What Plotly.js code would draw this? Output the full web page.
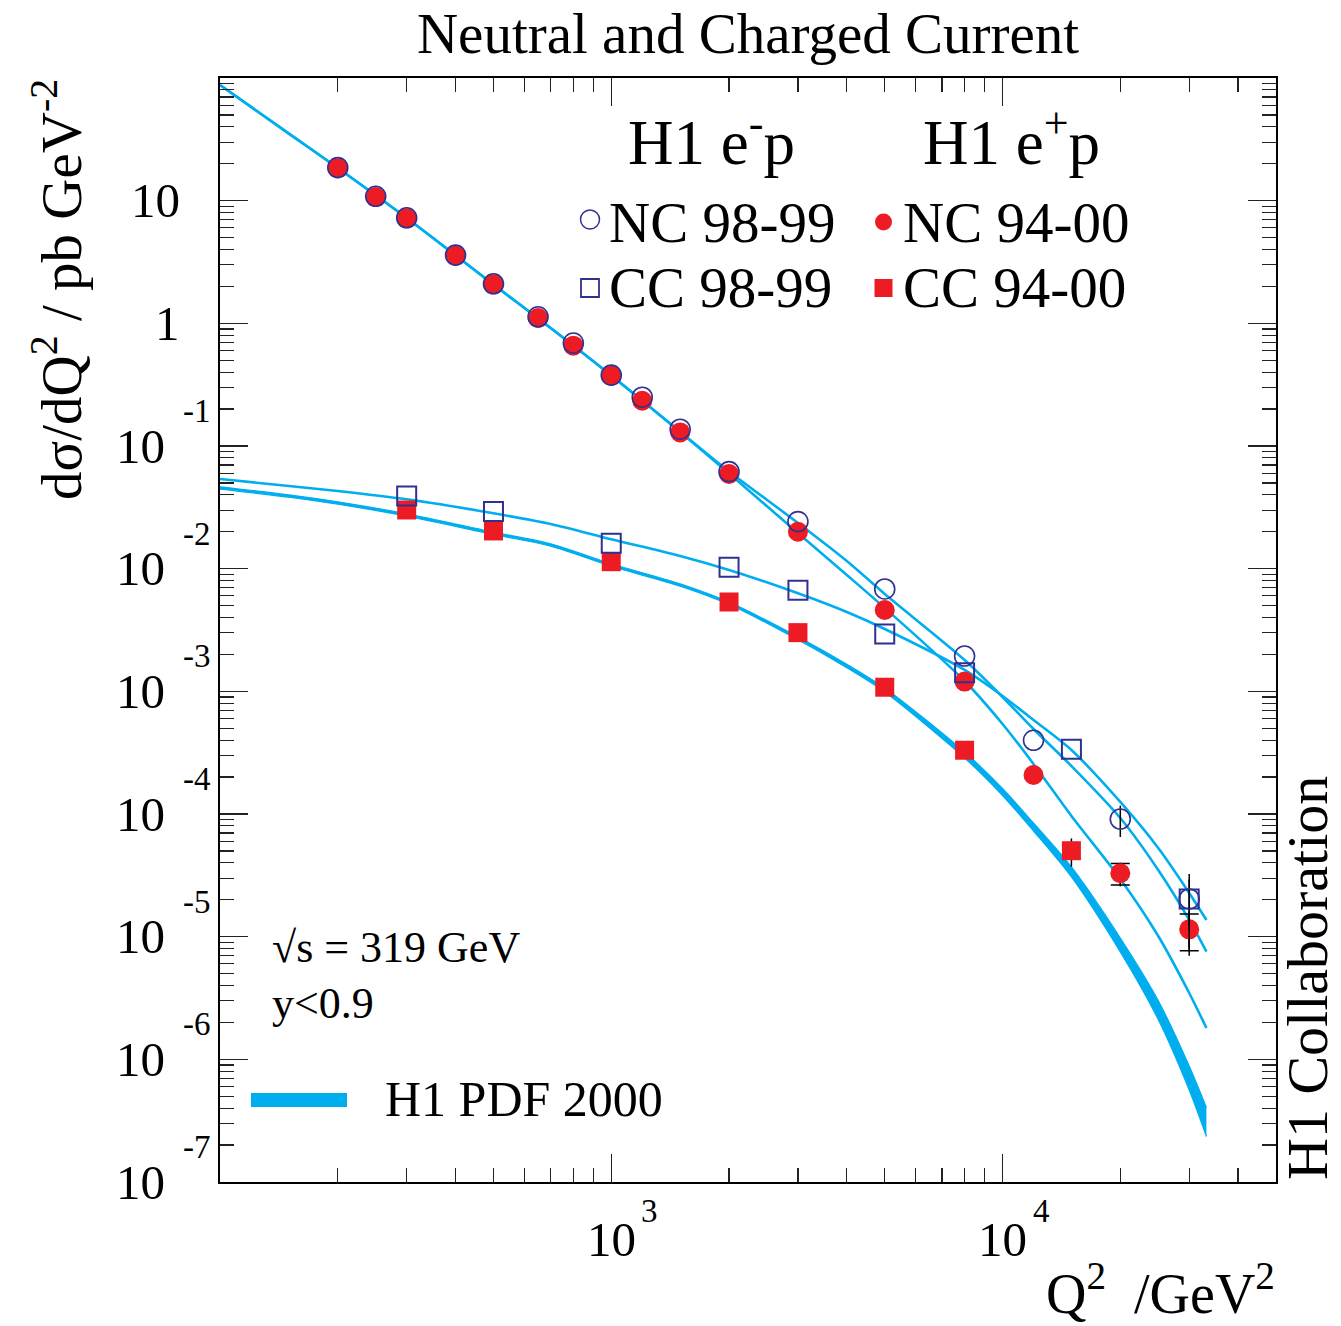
<!DOCTYPE html>
<html>
<head>
<meta charset="utf-8">
<script src="https://cdn.plot.ly/plotly-3.0.1.min.js"></script>
<style>body{margin:0;padding:0;background:#fff;} #chart{width:1341px;height:1326px;}</style>
</head>
<body>
<div id="chart"></div>
<script>
// ---------------- data ----------------
const ncQ2 = [200,250,300,400,500,650,800,1000,1200,1500,2000,3000,5000,8000,12000,20000,30000];
const ncEmVal = [18.6,10.85,7.25,3.6,2.1,1.13,0.691,0.378,0.250,0.137,0.0618,0.0242,0.00683,0.00194,3.99e-4,9.1e-5,2.03e-5];
// errors smaller than the marker are not visible in the picture and are left at 0
const ncEmErr = [0,0,0,0,0,0,0,0,0,0,0,0,0,0,0,0.000026,0.000009];
const ncEpVal = [18.4,10.7,7.18,3.56,2.08,1.106,0.658,0.374,0.234,0.129,0.0591,0.0200,0.00460,0.00120,2.08e-4,3.29e-5,1.148e-5];
const ncEpErr = [0,0,0,0,0,0,0,0,0,0,0,0,0,0,0,0.0000072,0.0000045];
const ncEpStat = [0,0,0,0,0,0,0,0,0,0,0,0,0,0,0,0.0000065,0.0000038];

const ccEmQ2 = [300,500,1000,2000,3000,5000,8000,15000,30000];
const ccEmVal = [0.0392,0.0292,0.0161,0.01026,0.00667,0.00294,0.00142,3.37e-4,2.03e-5];
const ccEmErr = [0,0,0,0,0,0,0,0,0.0000121];

const ccEpQ2 = [300,500,1000,2000,3000,5000,8000,15000];
const ccEpVal = [0.0301,0.0203,0.0114,0.00535,0.00301,0.00108,3.31e-4,5.02e-5];
const ccEpErr = [0,0,0,0,0,0,0,0.000013];

// H1 PDF 2000 predictions
const curveQ2 = [100,150,200,300,500,700,1000,1500,2000,3000,4000,5000,8000,10000,12000,15000,20000,25000,30000,33200];
const pdfNcEm = [87.7,35.23,18.47,7.224,2.073,0.9163,0.3757,0.1305,0.06198,0.02358,0.01155,0.006216,0.001801,8.994e-4,4.932e-4,2.462e-4,9.28e-5,3.496e-5,1.368e-5,7.54e-6];
const pdfNcEp = [87.7,35.23,18.47,7.224,2.073,0.9163,0.3757,0.1301,0.05970,0.01953,0.008882,0.004780,0.001214,5.418e-4,2.557e-4,9.634e-5,2.954e-5,1.013e-5,3.475e-6,1.801e-6];
const pdfCcEm = [0.05384,0.04721,0.04297,0.03677,0.02828,0.02313,0.01736,0.01269,0.009754,0.006298,0.004433,0.003222,0.001493,9.165e-4,5.84e-4,3.325e-4,1.253e-4,5.284e-5,2.271e-5,1.368e-5];
const pdfCcEpHigh = [0.04650,0.04002,0.03508,0.02802,0.01987,0.01596,0.01096,0.007528,0.005341,0.002783,0.001664,0.001065,3.203e-4,1.615e-4,8.448e-5,3.700e-5,9.758e-6,3.019e-6,8.826e-7,4.050e-7];
const pdfCcEpLow = [0.04445,0.03826,0.03354,0.02679,0.01900,0.01525,0.01048,0.007196,0.005106,0.002631,0.001555,0.000988,2.862e-4,1.416e-4,7.270e-5,3.067e-5,7.504e-6,2.113e-6,5.627e-7,2.350e-7];

// tick labels
const yTickVals = [10,1,0.1,0.01,1e-3,1e-4,1e-5,1e-6,1e-7];
const yTickBase = ["10","1","10","10","10","10","10","10","10"];
const yTickExp  = ["","","-1","-2","-3","-4","-5","-6","-7"];
const xTickVals = [1000,10000];
const xTickBase = ["10","10"];
const xTickExp  = ["3","4"];

// ---------------- style ----------------
const FONT = "Liberation Serif, 'Times New Roman', Times, serif";
const CYAN = "#00AEEF";
const NAVY = "#2E3192";
const RED = "#ED1C24";
const L = 220, R = 1276, T = 78, B = 1182;
const W = R - L, H = B - T;
const xp = px => (px - L) / W;
const yp = py => (B - py) / H;

const traces = [];
// CC e+ band
traces.push({x: curveQ2, y: pdfCcEpLow, mode: 'lines', line: {color: CYAN, width: 1.2, shape: 'spline', smoothing: 0.8}, hoverinfo: 'skip'});
traces.push({x: curveQ2, y: pdfCcEpHigh, mode: 'lines', fill: 'tonexty', fillcolor: CYAN, line: {color: CYAN, width: 1.2, shape: 'spline', smoothing: 0.8}, hoverinfo: 'skip'});
// thin predictions
[pdfCcEm, pdfNcEp, pdfNcEm].forEach(arr => {
  traces.push({x: curveQ2, y: arr, mode: 'lines', line: {color: CYAN, width: 2.6, shape: 'spline', smoothing: 0.8}, hoverinfo: 'skip'});
});

// statistical error caps (NC e+) drawn below markers
const statIdx = ncEpStat.map((v, i) => i).filter(i => ncEpStat[i] > 0);
traces.push({
  x: statIdx.map(i => ncQ2[i]), y: statIdx.map(i => ncEpVal[i]), mode: 'markers',
  marker: {size: 1, opacity: 0},
  error_y: {type: 'data', array: statIdx.map(i => ncEpStat[i]), visible: true, color: '#000', thickness: 1.5, width: 9.5},
  hoverinfo: 'skip'
});

const errStyle = arr => ({type: 'data', array: arr, visible: true, color: '#000', thickness: 1.5, width: 0});

// e+ p (filled red) first
traces.push({x: ccEpQ2, y: ccEpVal, mode: 'markers', error_y: errStyle(ccEpErr),
  marker: {symbol: 'square', size: 19, color: RED, line: {width: 0}}});
traces.push({x: ncQ2, y: ncEpVal, mode: 'markers', error_y: errStyle(ncEpErr),
  marker: {symbol: 'circle', size: 20, color: RED, line: {width: 0}}});
// e- p (open navy) on top
traces.push({x: ccEmQ2, y: ccEmVal, mode: 'markers', error_y: errStyle(ccEmErr),
  marker: {symbol: 'square-open', size: 19, color: NAVY, line: {width: 2, color: NAVY}}});
traces.push({x: ncQ2, y: ncEmVal, mode: 'markers', error_y: errStyle(ncEmErr),
  marker: {symbol: 'circle-open', size: 20, color: NAVY, line: {width: 1.6, color: NAVY}}});

// ---------------- annotations ----------------
const ann = [];
const txt = (text, x, y, size, opts) => Object.assign({text: text, x: x, y: y, xref: 'paper', yref: 'paper',
  showarrow: false, font: {family: FONT, size: size, color: '#000'}, xanchor: 'left', yanchor: 'middle'}, opts || {});

yTickVals.forEach((v, i) => {
  if (yTickExp[i] === "") {
    ann.push(txt(yTickBase[i], xp(182), Math.log10(v), 49, {yref: 'y', xanchor: 'right'}));
  } else {
    ann.push(txt(yTickBase[i], xp(167), Math.log10(v), 49, {yref: 'y', xanchor: 'right'}));
    ann.push(txt(yTickExp[i], xp(181), Math.log10(v), 33, {yref: 'y', xanchor: 'left', yshift: 35}));
  }
});
xTickVals.forEach((v, i) => {
  ann.push(txt(xTickBase[i], Math.log10(v), yp(1239), 49, {xref: 'x', xanchor: 'center'}));
  ann.push(txt(xTickExp[i], Math.log10(v), yp(1211), 33, {xref: 'x', xanchor: 'left', xshift: 28}));
});

ann.push(txt("Q<sup>2</sup>&nbsp;&nbsp;/GeV<sup>2</sup>", xp(1276), yp(1289), 56, {xanchor: 'right', borderpad: 0}));
ann.push(txt("d\u03c3/dQ<sup>2</sup> / pb GeV<sup>-2</sup>", xp(57), yp(290), 57, {xanchor: 'center', textangle: -90}));
ann.push(txt("H1 Collaboration", xp(1307), yp(978), 58, {xanchor: 'center', textangle: -90, borderpad: 0}));

ann.push(txt("H1 e<sup>-</sup>p", xp(626), yp(138), 63));
ann.push(txt("H1 e<sup>+</sup>p", xp(921), yp(138), 63));
ann.push(txt("NC 98-99", xp(607), yp(222), 57));
ann.push(txt("CC 98-99", xp(607), yp(288), 57));
ann.push(txt("NC 94-00", xp(901), yp(222), 57));
ann.push(txt("CC 94-00", xp(901), yp(288), 57));

ann.push(txt("\u221as = 319 GeV", xp(270), yp(947), 44));
ann.push(txt("y&lt;0.9", xp(270), yp(1003), 44));
ann.push(txt("H1 PDF 2000", xp(383), yp(1099), 50));

// ---------------- legend symbols (shapes) ----------------
const shapes = [
  {type: 'circle', xref: 'paper', yref: 'paper', x0: xp(580.5), x1: xp(599.5), y0: yp(229), y1: yp(210), line: {color: NAVY, width: 1.5}, fillcolor: 'rgba(0,0,0,0)'},
  {type: 'rect', xref: 'paper', yref: 'paper', x0: xp(581), x1: xp(599), y0: yp(297), y1: yp(279), line: {color: NAVY, width: 1.8}, fillcolor: 'rgba(0,0,0,0)'},
  {type: 'circle', xref: 'paper', yref: 'paper', x0: xp(875), x1: xp(892), y0: yp(230.5), y1: yp(213.5), line: {width: 0}, fillcolor: RED},
  {type: 'rect', xref: 'paper', yref: 'paper', x0: xp(874.5), x1: xp(892.5), y0: yp(297), y1: yp(279), line: {width: 0}, fillcolor: RED},
  {type: 'line', xref: 'paper', yref: 'paper', x0: xp(251), x1: xp(347), y0: yp(1100), y1: yp(1100), line: {color: CYAN, width: 14}}
];

const axisCommon = {
  type: 'log', showline: true, linewidth: 2, linecolor: '#000', mirror: 'ticks',
  ticks: 'inside', ticklen: 28, tickwidth: 1.4, tickcolor: '#222', dtick: 1,
  showticklabels: false, showgrid: false, zeroline: false, fixedrange: true,
  minor: {dtick: 'D1', ticks: 'inside', ticklen: 14, tickwidth: 1.2, tickcolor: '#222', showgrid: false}
};

const layout = {
  width: 1341, height: 1326,
  margin: {l: L, r: 1341 - R, t: T, b: 1326 - B, pad: 0},
  paper_bgcolor: '#fff', plot_bgcolor: '#fff',
  showlegend: false,
  title: {text: "Neutral and Charged Current", font: {family: FONT, size: 57, color: '#000'},
          x: 748 / 1341, xref: 'container', xanchor: 'center', y: 1 - 33 / 1326, yref: 'container', yanchor: 'middle'},
  xaxis: Object.assign({}, axisCommon, {range: [2, Math.log10(5e4)]}),
  yaxis: Object.assign({}, axisCommon, {range: [-7, 2]}),
  annotations: ann,
  shapes: shapes
};

Plotly.newPlot('chart', traces, layout, {staticPlot: true, displayModeBar: false});
</script>
</body>
</html>
